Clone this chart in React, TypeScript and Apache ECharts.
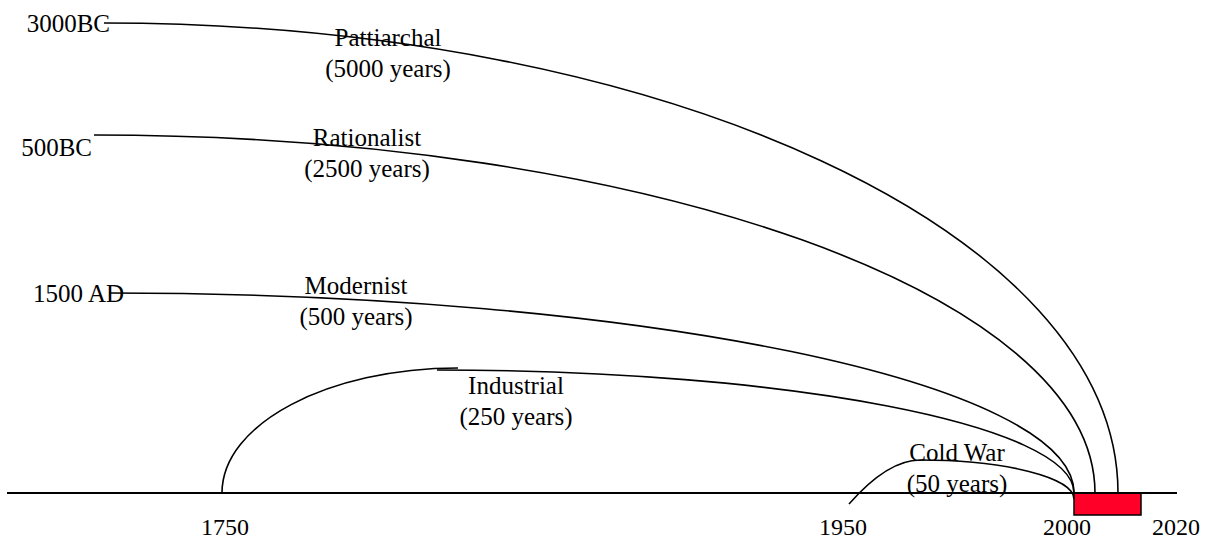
import React, { useEffect, useRef } from "react";
import * as echarts from "echarts";

// Diagram units: x runs left→right, h = height above the timeline baseline.
const eraNames = ["Pattiarchal", "Rationalist", "Modernist", "Industrial", "Cold War"];
const eraSpans = ["(5000 years)", "(2500 years)", "(500 years)", "(250 years)", "(50 years)"];
const eraLabelX = [388, 367, 356, 516, 957];
const eraLabelH = [456, 356, 208, 108, 41];

const startLabels = ["3000BC", "500BC", "1500 AD"];
const startLabelX = [110, 92, 124];
const startLabelH = [470, 346, 200];

const tickLabels = ["1750", "1950", "2000", "2020"];
const tickX = [225, 843, 1067, 1176];
const tickH = -34;

// Arcs: [startX, startH, endX, endH]
const arcStartX = [104, 94, 109, 437, 920, 222, 849];
const arcStartH = [470, 358, 200, 123, 33, 0, -11];
const arcEndX = [1118, 1095, 1074, 1074, 1074, 458, 920];
const arcEndH = [0, 0, 0, 0, -6, 125, 33];
// "fall": horizontal start → vertical end; "rise": vertical start → horizontal end; "slope": slanted rise
const arcKind = ["fall", "fall", "fall", "fall", "fall", "rise", "slope"];

const baselineX = [7, 1177];
const presentBox = [1074, 1141, 0, -22]; // x0, x1, h0, h1

export default function App() {
  const ref = useRef<HTMLDivElement>(null);
  useEffect(() => {
    if (!ref.current) return;
    const chart = echarts.init(ref.current, undefined, { renderer: "svg" });
    const K = 0.5523;
    const arcData = arcStartX.map((x, i) => [x, arcStartH[i], arcEndX[i], arcEndH[i]]);

    type Lbl = { x: number; h: number; text: string; align: string; size: number };
    const labels: Lbl[] = [];
    eraNames.forEach((t, i) => labels.push({ x: eraLabelX[i], h: eraLabelH[i], text: t, align: "center", size: 25 }));
    eraSpans.forEach((t, i) => labels.push({ x: eraLabelX[i], h: eraLabelH[i] - 31, text: t, align: "center", size: 25 }));
    startLabels.forEach((t, i) => labels.push({ x: startLabelX[i], h: startLabelH[i], text: t, align: "right", size: 25 }));
    tickLabels.forEach((t, i) => labels.push({ x: tickX[i], h: tickH, text: t, align: "center", size: 24 }));

    const fontFamily = '"Liberation Serif", "Times New Roman", serif';

    chart.setOption({
      animation: false,
      backgroundColor: "#ffffff",
      grid: { left: 0, right: 0, top: 0, bottom: 0 },
      xAxis: { type: "value", min: 0, max: 1207, show: false },
      yAxis: { type: "value", min: -48, max: 493, show: false },
      series: [
        {
          type: "custom",
          clip: false,
          data: [presentBox],
          renderItem: (params: any, api: any) => {
            const a = api.coord([api.value(0), api.value(2)]);
            const b = api.coord([api.value(1), api.value(3)]);
            return {
              type: "rect",
              shape: { x: a[0], y: a[1], width: b[0] - a[0], height: b[1] - a[1] },
              style: { fill: "#ff0028", stroke: "#000", lineWidth: 1.5 },
            };
          },
        },
        {
          type: "line",
          data: baselineX.map((x) => [x, 0]),
          symbol: "none",
          lineStyle: { color: "#000", width: 2 },
        },
        {
          type: "custom",
          clip: false,
          data: arcData,
          renderItem: (params: any, api: any) => {
            const p0 = api.coord([api.value(0), api.value(1)]);
            const p3 = api.coord([api.value(2), api.value(3)]);
            const kind = arcKind[params.dataIndex];
            const dx = p3[0] - p0[0];
            const dy = p3[1] - p0[1];
            let c1: number[];
            let c2: number[];
            if (kind === "fall") {
              c1 = [p0[0] + K * dx, p0[1]];
              c2 = [p3[0], p3[1] - K * dy];
            } else if (kind === "rise") {
              c1 = [p0[0], p0[1] + K * dy];
              c2 = [p3[0] - K * dx, p3[1]];
            } else {
              c1 = [p0[0] + 0.3 * dx, p0[1] + 0.55 * dy];
              c2 = [p3[0] - 0.35 * dx, p3[1]];
            }
            return {
              type: "bezierCurve",
              shape: {
                x1: p0[0], y1: p0[1], x2: p3[0], y2: p3[1],
                cpx1: c1[0], cpy1: c1[1], cpx2: c2[0], cpy2: c2[1],
              },
              style: { stroke: "#000", lineWidth: 1.6, fill: "none" },
            };
          },
        },
        {
          type: "custom",
          clip: false,
          data: labels.map((l) => [l.x, l.h]),
          renderItem: (params: any, api: any) => {
            const l = labels[params.dataIndex];
            const p = api.coord([api.value(0), api.value(1)]);
            return {
              type: "text",
              x: p[0],
              y: p[1],
              style: {
                text: l.text,
                fill: "#000",
                font: `${l.size}px ${fontFamily}`,
                align: l.align,
                verticalAlign: "middle",
              },
            };
          },
        },
      ],
    });
    return () => chart.dispose();
  }, []);
  return (
    <div
      ref={ref}
      style={{ position: "fixed", left: 0, top: 0, width: 1207, height: 541, background: "#fff" }}
    />
  );
}
